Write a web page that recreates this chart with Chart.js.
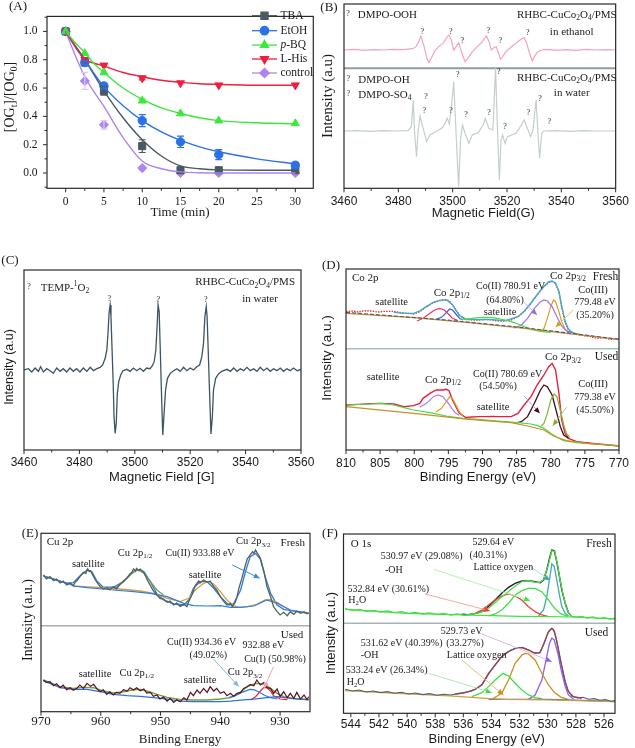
<!DOCTYPE html>
<html><head><meta charset="utf-8">
<script src="https://cdn.jsdelivr.net/npm/chart.js@4.4.0/dist/chart.umd.min.js"></script>
<style>
html,body{margin:0;padding:0;background:#fff;}
#wrap{position:relative;width:635px;height:748px;overflow:hidden;background:#fff;}
#wrap canvas{position:absolute;left:0;top:0;}
</style></head><body><div id="wrap">
<canvas id="cA" width="635" height="748"></canvas>
<canvas id="cB" width="635" height="748"></canvas>
<canvas id="cC" width="635" height="748"></canvas>
<canvas id="cD" width="635" height="748"></canvas>
<canvas id="cE" width="635" height="748"></canvas>
<canvas id="cF" width="635" height="748"></canvas>
</div>
<script>
// ================= DATA =================
// Panel A: degradation kinetics
const A_times = [0, 2.5, 5, 10, 15, 20, 30];
const A_TBA = [1.0, 0.78, 0.58, 0.19, 0.02, 0.02, 0.02];
const A_TBA_err = [0, 0.015, 0.03, 0.045, 0.008, 0.008, 0.008];
const A_EtOH = [1.0, 0.78, 0.615, 0.37, 0.22, 0.13, 0.055];
const A_EtOH_err = [0, 0.015, 0.02, 0.042, 0.04, 0.035, 0.02];
const A_pBQ = [1.0, 0.845, 0.71, 0.51, 0.42, 0.37, 0.35];
const A_pBQ_err = [0, 0.01, 0.01, 0.012, 0.01, 0.01, 0.008];
const A_LHis = [1.0, 0.80, 0.76, 0.67, 0.635, 0.62, 0.62];
const A_LHis_err = [0, 0.01, 0.01, 0.012, 0.01, 0.008, 0.008];
const A_control = [1.0, 0.65, 0.34, 0.035, 0.0, 0.0, 0.0];
const A_control_err = [0, 0.06, 0.03, 0.01, 0.005, 0.005, 0.005];
const A_fitTimes = [0, 1.25, 2.5, 3.75, 5, 7.5, 10, 12.5, 15, 17.5, 20, 25, 30];
const A_TBA_fit = [1.0, 0.90, 0.80, 0.69, 0.58, 0.39, 0.235, 0.12, 0.05, 0.03, 0.022, 0.02, 0.02];
const A_EtOH_fit = [1.0, 0.89, 0.80, 0.70, 0.61, 0.475, 0.37, 0.29, 0.23, 0.185, 0.15, 0.10, 0.065];
const A_pBQ_fit = [1.0, 0.92, 0.85, 0.77, 0.71, 0.60, 0.52, 0.46, 0.42, 0.39, 0.37, 0.355, 0.347];
const A_LHis_fit = [1.0, 0.895, 0.80, 0.775, 0.755, 0.71, 0.68, 0.655, 0.64, 0.63, 0.625, 0.62, 0.62];
const A_control_fit = [1.0, 0.83, 0.68, 0.57, 0.47, 0.25, 0.085, 0.03, 0.008, 0.002, 0.0, 0.0, 0.0];
const A_labels = ['TBA', 'EtOH', '~{p}-BQ', 'L-His', 'control'];
const A_xTicks = [0, 5, 10, 15, 20, 25, 30];
const A_yTicks = [0.0, 0.2, 0.4, 0.6, 0.8, 1.0];

// Panel B: EPR DMPO spectra [field G, intensity]
const B_ethanol = [[3460,415],[3463.6,417],[3467.2,414],[3470.8,416],[3474.5,415],[3478.1,417],[3481.7,416],[3485.3,419],[3486.5,425],[3487.5,440],[3488.3,457],[3489.5,425],[3490.5,390],[3491.3,377],[3492.3,393],[3493.5,413],[3494.9,425],[3496.7,437],[3498.0,455],[3498.6,460],[3499.5,445],[3500.4,415],[3501.3,425],[3502.2,437],[3503.4,405],[3504.6,380],[3505.8,393],[3507.0,407],[3508.8,423],[3510.6,437],[3512.4,457],[3513.4,440],[3514.2,415],[3515.2,422],[3516.0,425],[3516.9,405],[3517.6,387],[3518.4,395],[3519.6,410],[3521.4,423],[3523.3,435],[3525.1,447],[3526.3,452],[3527.2,437],[3528.3,405],[3529.3,382],[3530.1,395],[3531.3,410],[3532.9,415],[3534.7,417],[3538.3,414],[3541.9,416],[3545.5,414],[3549.2,417],[3552.8,415],[3556.4,416],[3560,415]];
const B_water = [[3460,172],[3464.8,173],[3469.6,171],[3474.5,173],[3479.3,172],[3483.5,173],[3484.8,185],[3485.5,265],[3486.0,165],[3486.7,95],[3487.2,165],[3488.0,217],[3488.9,187],[3490.4,140],[3491.6,160],[3493.7,169],[3496.4,183],[3498.0,210],[3498.8,193],[3499.8,265],[3500.4,320],[3501.2,175],[3502.2,5],[3502.9,145],[3503.6,190],[3504.8,160],[3506.0,135],[3507.2,160],[3509.4,167],[3511.2,190],[3512.0,210],[3513.3,180],[3514.8,175],[3515.3,265],[3515.8,360],[3516.5,175],[3517.2,25],[3517.8,145],[3518.4,160],[3519.3,135],[3520.2,155],[3523.3,165],[3525.1,187],[3526.3,205],[3527.5,180],[3528.7,155],[3529.6,175],[3530.7,265],[3531.4,165],[3532.0,90],[3532.8,165],[3533.5,172],[3538.3,173],[3543.1,171],[3548.0,173],[3552.8,172],[3560,172]];
const B_xTicks = [3460, 3480, 3500, 3520, 3540, 3560];

// Panel C: TEMP-1O2 spectrum
const C_spectrum = [[3460.0,240],[3461.6,244],[3462.8,234],[3464.0,246],[3465.2,236],[3466.0,250],[3467.0,234],[3468.2,244],[3469.4,238],[3470.6,230],[3471.8,246],[3473.0,236],[3474.2,244],[3475.4,234],[3476.6,246],[3477.8,236],[3479.0,244],[3480.2,234],[3481.4,246],[3482.7,236],[3483.9,248],[3485.1,238],[3486.3,244],[3487.5,248],[3488.4,255],[3489.3,275],[3489.9,300],[3490.4,360],[3490.7,410],[3491.1,435],[3491.4,400],[3491.8,300],[3492.2,200],[3492.5,100],[3492.9,50],[3493.3,80],[3493.7,170],[3494.2,205],[3494.9,225],[3495.7,238],[3497.1,242],[3498.3,236],[3499.5,246],[3500.7,238],[3501.9,245],[3503.1,236],[3504.3,246],[3505.5,244],[3506.3,252],[3507.0,265],[3507.6,300],[3508.1,380],[3508.4,435],[3508.8,415],[3509.2,300],[3509.6,180],[3510.1,45],[3510.5,100],[3511.1,180],[3511.8,215],[3512.8,230],[3514.0,238],[3515.2,244],[3516.4,236],[3517.6,248],[3518.8,238],[3520.0,246],[3521.2,240],[3522.4,250],[3523.4,255],[3524.2,280],[3524.8,320],[3525.3,400],[3525.8,430],[3526.1,400],[3526.5,300],[3527.0,170],[3527.5,48],[3528.0,100],[3528.4,180],[3529.2,215],[3530.2,228],[3531.4,236],[3533.3,242],[3534.5,236],[3535.7,246],[3536.9,236],[3538.1,244],[3539.3,238],[3540.5,248],[3541.7,238],[3542.9,244],[3544.1,236],[3545.3,248],[3546.5,238],[3547.7,246],[3548.9,236],[3550.1,244],[3551.3,238],[3552.5,246],[3553.7,236],[3554.9,244],[3556.1,238],[3557.3,246],[3558.6,238],[3560.0,242]];
const C_xTicks = [3460, 3480, 3500, 3520, 3540, 3560];

// Panel D: Co 2p XPS [binding energy eV, intensity]
const D_freshRaw = [[810,415],[809.1,417],[808.2,414],[807.3,418],[806.3,417],[805.3,414],[804.4,416],[803.0,416],[802.2,413],[801.5,411],[800.1,408],[799.2,415],[798.2,430],[797.2,442],[796.3,448],[795.3,450],[794.9,448],[794.4,435],[793.4,405],[792.5,392],[791.5,390],[790.6,390],[789.6,392],[788.6,390],[787.7,387],[786.7,387],[785.8,390],[784.8,400],[783.9,415],[782.9,440],[782.0,465],[781.0,490],[780.3,503],[779.8,505],[779.3,500],[778.8,475],[778.4,430],[777.9,385],[777.4,360],[776.7,350],[776.2,348],[775.7,345],[775.2,343],[774.8,342],[774.3,341],[773.8,338],[773.3,336],[772.9,335],[772.4,337],[771.9,335],[771.5,333],[771.0,332],[770.5,334],[770.0,332]];
const D_freshEnv = [[803.0,413],[801.5,410],[800.1,410],[799.2,417],[798.2,431],[797.2,443],[796.3,449],[795.3,451],[794.4,436],[793.4,404],[792.5,393],[790.6,391],[788.6,391],[786.7,388],[784.8,400],[783.9,416],[782.9,441],[782.0,466],[781.0,491],[780.3,505],[779.8,507],[779.3,501],[778.8,476],[778.4,431],[777.9,386],[777.4,362],[776.7,351],[775.7,346]];
const D_freshBgA = [[810,410],[800.1,397],[792,382],[784.8,367],[777.7,350],[770,332]];
const D_freshBgB = [[810,413],[795.3,390],[783.9,367],[776.2,348],[770,332]];
const D_freshP12a = [[799.6,387],[798.7,395],[797.7,410],[797.0,420],[796.3,425],[795.6,420],[795.0,408],[794.4,395],[793.6,388]];
const D_freshP12b = [[796.8,392],[796.0,398],[795.3,412],[794.8,423],[794.4,420],[793.9,408],[793.4,396],[792.9,390]];
const D_freshSat = [[793.4,393],[792.5,392],[791.5,395],[790.6,397],[789.6,398],[788.6,397],[787.7,394],[786.7,390],[785.8,385],[784.8,378],[783.9,370],[782.9,362],[781.5,356],[780.0,353]];
const D_freshCo2 = [[785.3,365],[784.3,375],[783.4,395],[782.4,425],[781.5,445],[781.0,450],[780.5,447],[779.8,430],[779.1,400],[778.4,372],[777.7,358],[777.0,352]];
const D_freshCo3 = [[781.5,355],[781.0,365],[780.5,395],[780.0,430],[779.6,450],[779.3,445],[778.8,415],[778.4,385],[777.9,362],[777.4,352]];
const D_usedRaw = [[810,135],[808.2,137],[806.3,139],[804.9,140],[803.0,138],[801.5,130],[800.1,133],[799.2,140],[798.7,155],[797.7,170],[796.8,180],[795.8,180],[795.3,182],[794.9,178],[794.4,150],[793.4,110],[792.5,98],[791.5,99],[790.6,100],[789.6,100],[788.6,101],[787.7,100],[786.7,100],[785.8,100],[784.8,110],[783.9,135],[782.9,160],[782.0,195],[781.0,225],[780.3,250],[779.8,260],[779.3,240],[778.8,170],[778.4,90],[777.9,50],[777.4,35],[776.2,25],[773.8,20],[771.4,15],[770.0,12]];
const D_usedBgGreen = [[810,135],[806.3,138],[804.9,140],[803.0,135],[801.5,127],[800.1,120],[797.7,112],[795.3,102],[792.9,95],[790.6,92],[788.6,88],[786.7,85],[784.8,82],[782.9,78],[782.0,74],[781.0,65],[780.0,50],[779.1,38],[778.1,28],[776.2,22],[773.8,18],[771.4,15],[770,13]];
const D_usedBgOrange = [[810,130],[800.1,110],[792,92],[785.8,82],[783.4,72],[781.0,60],[779.6,42],[777.7,28],[774.8,20],[770,12]];
const D_usedP12a = [[799.2,128],[798.2,140],[797.2,160],[796.5,165],[795.8,160],[795.0,140],[794.4,122],[793.9,110],[793.4,104]];
const D_usedP12b = [[796.8,115],[796.0,125],[795.3,145],[794.8,160],[794.4,155],[793.9,135],[793.4,115],[792.9,103]];
const D_usedCo2 = [[785.3,80],[784.3,85],[783.4,100],[782.4,140],[781.5,180],[781.0,195],[780.5,190],[779.8,165],[779.1,110],[778.6,70],[778.1,45],[777.4,35]];
const D_usedCo3 = [[781.5,70],[781.0,80],[780.5,110],[780.0,150],[779.5,168],[779.1,160],[778.6,120],[778.1,75],[777.7,50],[777.2,38]];
const D_xTicks = [810, 805, 800, 795, 790, 785, 780, 775, 770];

// Panel E: Cu 2p XPS
const E_freshRaw = [[969.6,410],[969.1,398],[968.5,405],[967.9,393],[967.4,398],[966.8,386],[966.3,392],[965.7,380],[965.1,386],[964.6,378],[964.3,388],[963.9,395],[963.5,405],[962.9,418],[962.5,415],[962.2,428],[961.9,420],[961.7,422],[961.2,405],[960.9,395],[960.4,382],[960.1,375],[959.6,368],[959.0,372],[958.5,366],[957.9,375],[957.4,368],[956.8,382],[956.2,392],[955.6,402],[955.1,414],[954.8,418],[954.5,428],[954.2,422],[954.0,430],[953.7,424],[953.4,428],[952.8,418],[952.3,398],[951.7,378],[951.2,362],[950.6,350],[950.1,340],[949.5,338],[948.9,328],[948.4,332],[947.8,320],[947.3,326],[946.7,316],[946.1,322],[945.6,315],[945.3,330],[944.7,352],[944.2,378],[943.6,392],[943.4,386],[942.8,395],[942.2,388],[941.7,392],[941.1,375],[940.6,365],[940.0,345],[939.4,330],[938.9,320],[938.3,325],[938.0,315],[937.5,328],[937.2,345],[936.9,370],[936.4,400],[935.8,440],[935.5,458],[935.0,470],[934.6,480],[934.4,475],[934.1,485],[933.9,478],[933.6,470],[933.3,460],[932.7,420],[932.2,375],[931.6,345],[931.1,315],[930.5,300],[930.0,290],[929.4,298],[928.8,288],[928.3,300],[927.7,292],[927.2,302],[926.6,295],[926.0,300],[925.5,294],[925.2,296]];
const E_freshEnv = [[969.6,407],[967.4,395],[965.7,385],[964.6,387],[963.5,407],[962.3,425],[961.5,420],[960.7,393],[959.6,373],[957.9,373],[956.2,390],[955.1,410],[954.0,425],[952.8,420],[951.7,390],[950.6,353],[949.5,335],[947.8,323],[946.1,320],[945.3,335],[944.5,370],[943.4,390],[942.2,390],[941.1,370],[940.0,345],[938.6,320],[937.8,323],[936.6,365],[935.8,420],[935.0,465],[934.1,475],[933.3,457],[932.5,405],[931.6,355],[930.5,320],[929.4,307],[927.2,300],[925.2,295]];
const E_freshBg = [[969.6,407],[967.4,395],[965.1,382],[964.6,377],[962.3,372],[959.6,368],[957.9,365],[954.5,360],[951.7,355],[948.9,345],[946.1,325],[944.5,318],[942.2,317],[940.0,318],[938.3,313],[936.6,313],[934.4,317],[932.2,335],[930.5,325],[928.3,305],[925.2,295]];
const E_freshSat = [[964.6,377],[962.8,375],[959.6,372],[956.8,368],[953.4,362],[951.2,355],[948.9,340],[946.7,330],[945.3,340],[944.2,365],[942.8,385],[942.0,390],[941.1,383],[940.0,360],[938.9,335],[937.8,318],[936.9,313],[935.5,315],[933.9,322],[932.5,335],[931.6,336],[930.5,328],[929.4,315],[928.3,305]];
const E_freshP12 = [[957.9,368],[956.8,380],[955.6,400],[954.5,420],[953.7,425],[952.8,415],[951.7,390],[950.6,365],[949.5,350]];
const E_usedRaw = [[969.6,95],[969.1,88],[968.5,90],[967.9,78],[967.4,84],[966.8,72],[966.3,80],[965.7,66],[965.1,72],[964.6,64],[964.0,70],[963.5,80],[962.9,70],[962.3,85],[961.7,76],[961.2,82],[960.7,70],[960.1,60],[959.6,66],[959.0,52],[958.5,60],[957.9,50],[957.4,58],[956.8,55],[956.2,66],[955.6,62],[955.1,72],[954.5,65],[954.0,72],[953.4,63],[952.8,68],[952.3,56],[951.7,58],[951.2,46],[950.6,50],[950.1,38],[949.5,44],[948.9,32],[948.4,40],[947.8,28],[947.3,36],[946.7,30],[946.1,42],[945.6,35],[945.0,58],[944.5,48],[943.9,65],[943.4,55],[942.8,70],[942.2,58],[941.7,75],[941.1,62],[940.6,70],[940.0,55],[939.4,60],[938.9,48],[938.3,55],[937.8,46],[937.2,55],[936.6,58],[936.1,70],[935.5,75],[935.0,82],[934.4,78],[933.9,95],[933.3,80],[932.7,88],[932.2,72],[931.6,70],[931.1,55],[930.5,68],[930.0,45],[929.4,60],[928.8,42],[928.3,55],[927.7,40],[927.2,58],[926.6,38],[926.0,50],[925.5,36],[925.2,45]];
const E_usedEnv = [[969.6,95],[966.8,75],[964.6,70],[962.9,73],[961.2,72],[959.6,62],[957.9,56],[956.2,60],[954.5,66],[953.4,67],[952.3,62],[950.6,52],[948.9,43],[946.7,37],[944.5,35],[942.2,35],[940.0,38],[938.3,42],[936.9,55],[935.5,75],[934.1,85],[932.7,83],[931.6,70],[930.5,55],[929.4,45],[927.2,38],[925.2,36]];
const E_usedBg = [[969.6,92],[966.8,72],[964.6,67],[962.3,67],[960.1,60],[957.9,52],[955.6,48],[953.4,46],[951.2,42],[948.9,38],[946.7,32],[944.5,30],[942.2,30],[940.0,30],[938.3,32],[936.6,35],[934.4,38],[932.2,42],[930.5,45],[928.3,40],[925.2,36]];
const E_usedCu2 = [[938.6,42],[937.5,48],[936.4,58],[935.5,64],[935.0,67],[934.4,66],[933.6,60],[932.7,50],[931.6,42],[930.5,38]];
const E_usedCu1 = [[935.0,35],[934.1,45],[933.3,62],[932.7,73],[932.2,72],[931.6,62],[931.1,48],[930.0,38],[928.8,36]];
const E_xTicks = [970, 960, 950, 940, 930];

// Panel F: O 1s XPS
const F_freshRaw = [[544.4,314],[543.9,309],[543.4,312],[542.9,306],[542.4,309],[541.9,304],[541.4,307],[540.9,302],[540.4,305],[539.9,300],[539.4,303],[538.9,298],[538.4,301],[537.9,297],[537.4,300],[536.9,295],[536.4,298],[535.9,294],[535.4,298],[534.9,301],[534.5,308],[534.2,316],[533.8,330],[533.4,345],[533.0,358],[532.6,372],[532.2,385],[531.8,396],[531.4,398],[531.0,394],[530.6,392],[530.3,401],[530.0,440],[529.8,472],[529.7,488],[529.5,486],[529.3,445],[529.1,395],[528.9,355],[528.7,320],[528.5,300],[528.3,291],[528.0,289],[527.6,291],[527.2,286],[526.8,289],[526.4,284],[526.0,287],[525.6,283],[525.2,285]];
const F_freshEnv = [[536.11,297],[535.64,296],[535.16,299],[534.69,305],[534.33,315],[533.98,330],[533.62,345],[533.27,360],[532.79,378],[532.32,390],[531.84,397],[531.37,398],[530.90,395],[530.54,392],[530.30,400],[530.07,430],[529.88,465],[529.71,490],[529.54,488],[529.36,455],[529.17,410],[529.00,370],[528.76,330],[528.53,302],[528.29,290]];
const F_freshBg = [[544.4,312],[540,300],[536,295],[534,293],[532,291],[530,290],[528.3,289],[525.2,283]];
const F_freshH2O = [[535.64,295],[535.16,300],[534.69,310],[534.21,325],[533.74,340],[533.27,352],[532.79,358],[532.32,352],[531.84,340],[531.37,320],[530.90,305],[530.42,295],[529.95,290]];
const F_freshOH = [[534.21,292],[533.74,298],[533.27,310],[532.79,330],[532.32,355],[531.84,368],[531.37,375],[530.90,375],[530.42,365],[529.95,340],[529.52,315],[529.05,298],[528.53,290]];
const F_freshLat = [[530.66,292],[530.30,310],[530.07,350],[529.88,400],[529.71,448],[529.54,440],[529.36,400],[529.17,355],[529.00,320],[528.76,300],[528.53,292]];
const F_usedRaw = [[544.4,72],[543.9,67],[543.4,70],[542.9,64],[542.4,67],[541.9,62],[541.4,65],[540.9,60],[540.4,63],[539.9,58],[539.4,61],[538.9,56],[538.4,59],[537.9,54],[537.4,57],[536.9,55],[536.4,59],[535.9,62],[535.4,67],[535.0,76],[534.6,90],[534.2,118],[533.8,142],[533.4,165],[533.0,180],[532.6,190],[532.2,196],[531.8,198],[531.4,191],[531.0,182],[530.6,181],[530.3,205],[530.0,240],[529.8,252],[529.6,252],[529.4,225],[529.2,180],[529.0,140],[528.8,100],[528.6,72],[528.3,52],[527.9,46],[527.5,48],[527.1,42],[526.7,44],[526.3,39],[525.9,41],[525.5,36],[525.2,38]];
const F_usedEnv = [[536.58,58],[536.11,60],[535.64,65],[535.16,72],[534.69,85],[534.21,120],[533.74,145],[533.27,170],[532.79,185],[532.32,195],[531.84,197],[531.37,190],[530.90,180],[530.54,182],[530.18,220],[529.95,245],[529.71,255],[529.52,245],[529.28,200],[529.05,150],[528.76,95],[528.53,65],[528.17,50],[527.58,45]];
const F_usedBgGold = [[544.4,68],[540,58],[537,52],[535.4,48],[534.2,44],[533,42],[530,40],[528,38],[525.2,35]];
const F_usedBgBlue = [[534.2,42],[530,42],[527,38],[525.2,35]];
const F_usedH2O = [[535.40,50],[534.69,62],[534.21,80],[533.74,100],[533.19,120],[532.79,112],[532.32,90],[531.84,70],[531.37,55],[530.90,47],[530.42,44]];
const F_usedOH = [[533.98,42],[533.27,60],[532.79,100],[532.32,150],[531.84,175],[531.61,180],[531.37,178],[530.90,160],[530.42,120],[529.95,85],[529.52,62],[529.05,48],[528.53,42]];
const F_usedLat = [[531.37,42],[530.90,55],[530.42,100],[530.07,170],[529.88,210],[529.71,225],[529.54,220],[529.28,180],[529.05,130],[528.76,80],[528.53,55],[528.17,43]];
const F_xTicks = [544, 542, 540, 538, 536, 534, 532, 530, 528, 526];

// ================= HELPERS =================
const SERIF = '"Liberation Serif", "Times New Roman", serif';
const SANS = '"Liberation Sans", Arial, sans-serif';
const ROT = -Math.PI / 2;
Chart.defaults.animation = false;
Chart.defaults.font.family = SANS;

const zip = (xs, ys) => xs.map((x, i) => ({x: x, y: ys[i]}));
const pts = pairs => pairs.map(p => ({x: p[0], y: p[1]}));
function lineDS(data, color, width, extra) {
  return Object.assign({data: data, showLine: true, borderColor: color, borderWidth: width || 1.2,
    pointRadius: 0, fill: false, tension: 0}, extra || {});
}
function halfway(arr) { const r = []; for (let i = 0; i < arr.length - 1; i++) r.push((arr[i] + arr[i + 1]) / 2); return r; }

function parseRich(s) {
  const segs = []; let i = 0, buf = '';
  while (i < s.length) {
    const c = s[i];
    if ((c === '_' || c === '^' || c === '~') && s[i + 1] === '{') {
      if (buf) { segs.push({t: buf, m: 'n'}); buf = ''; }
      const j = s.indexOf('}', i + 2);
      segs.push({t: s.slice(i + 2, j), m: c === '_' ? 'sub' : (c === '^' ? 'sup' : 'it')});
      i = j + 1;
    } else { buf += c; i++; }
  }
  if (buf) segs.push({t: buf, m: 'n'});
  return segs;
}
function drawRich(ctx, s, x, y, o) {
  const segs = parseRich(s);
  const fontFor = m => ((m === 'it') ? 'italic ' : '') + ((m === 'sub' || m === 'sup') ? o.size * 0.68 : o.size) + 'px ' + o.family;
  let w = 0;
  segs.forEach(sg => { ctx.font = fontFor(sg.m); sg.w = ctx.measureText(sg.t).width; w += sg.w; });
  ctx.save();
  ctx.translate(x, y);
  if (o.rot) ctx.rotate(o.rot);
  let cx = o.align === 'center' ? -w / 2 : (o.align === 'right' ? -w : 0);
  ctx.fillStyle = o.color || '#1a1a1a';
  ctx.textBaseline = 'middle'; ctx.textAlign = 'left';
  segs.forEach(sg => {
    ctx.font = fontFor(sg.m);
    let dy = 0;
    if (sg.m === 'sub') dy = o.size * 0.3;
    if (sg.m === 'sup') dy = -o.size * 0.35;
    ctx.fillText(sg.t, cx, dy);
    cx += sg.w;
  });
  ctx.restore();
}

function decoPlugin(P) {
  return {
    id: 'deco',
    beforeDatasetsDraw(chart) {
      const ctx = chart.ctx, a = chart.chartArea, ys = chart.scales.y;
      ctx.save();
      (P.dividers || []).forEach(d => {
        const y = ys.getPixelForValue(d.v);
        ctx.strokeStyle = d.color; ctx.lineWidth = d.w;
        ctx.beginPath(); ctx.moveTo(a.left, y); ctx.lineTo(a.right, y); ctx.stroke();
      });
      ctx.restore();
    },
    afterDatasetsDraw(chart) {
      const ctx = chart.ctx, a = chart.chartArea, xs = chart.scales.x, ys = chart.scales.y;
      ctx.save();
      // error bars
      (P.errors || []).forEach(e => {
        ctx.strokeStyle = e.color; ctx.lineWidth = 1.2;
        e.x.forEach((xv, i) => {
          if (!e.e[i] || e.e[i] < 0.012) return;
          const px = xs.getPixelForValue(xv), y1 = ys.getPixelForValue(e.y[i] - e.e[i]), y2 = ys.getPixelForValue(e.y[i] + e.e[i]);
          ctx.beginPath();
          ctx.moveTo(px, y1); ctx.lineTo(px, y2);
          ctx.moveTo(px - 3.5, y1); ctx.lineTo(px + 3.5, y1);
          ctx.moveTo(px - 3.5, y2); ctx.lineTo(px + 3.5, y2);
          ctx.stroke();
        });
      });
      // arrows
      (P.arrows || []).forEach(ar => {
        const x1 = xs.getPixelForValue(ar[0]), y1 = ys.getPixelForValue(ar[1]);
        const x2 = xs.getPixelForValue(ar[2]), y2 = ys.getPixelForValue(ar[3]);
        ctx.strokeStyle = ar[4]; ctx.lineWidth = 1;
        ctx.beginPath(); ctx.moveTo(x1, y1); ctx.lineTo(x2, y2); ctx.stroke();
        const ang = Math.atan2(y2 - y1, x2 - x1), L = 6, Wd = 2.6;
        ctx.fillStyle = ar[5] || ar[4];
        ctx.beginPath();
        ctx.moveTo(x2, y2);
        ctx.lineTo(x2 - L * Math.cos(ang) + Wd * Math.sin(ang), y2 - L * Math.sin(ang) - Wd * Math.cos(ang));
        ctx.lineTo(x2 - L * Math.cos(ang) - Wd * Math.sin(ang), y2 - L * Math.sin(ang) + Wd * Math.cos(ang));
        ctx.closePath(); ctx.fill();
      });
      // frame
      ctx.strokeStyle = '#2a2a2a'; ctx.lineWidth = P.frameW || 1.2;
      ctx.strokeRect(a.left, a.top, a.right - a.left, a.bottom - a.top);
      // ticks (outward)
      ctx.lineWidth = 1;
      const tx = (vals, len) => vals.forEach(v => {
        const x = xs.getPixelForValue(v);
        ctx.beginPath(); ctx.moveTo(x, a.bottom); ctx.lineTo(x, a.bottom + len); ctx.stroke();
      });
      tx(P.x.major, 4); tx(P.x.minor || [], 2.5);
      if (P.yTicks) {
        const ty = (vals, len) => vals.forEach(v => {
          const y = ys.getPixelForValue(v);
          ctx.beginPath(); ctx.moveTo(a.left, y); ctx.lineTo(a.left - len, y); ctx.stroke();
        });
        ty(P.y.major, 4); ty(P.y.minor || [], 2.5);
      }
      // legend
      if (P.legend) {
        const L = P.legend;
        L.items.forEach((it, i) => {
          const y = L.y[i];
          ctx.strokeStyle = it.color; ctx.lineWidth = 1.3;
          ctx.beginPath(); ctx.moveTo(L.x0, y); ctx.lineTo(L.x1, y); ctx.stroke();
          ctx.fillStyle = it.color; ctx.strokeStyle = it.color;
          Chart.helpers.drawPoint(ctx, {pointStyle: it.style, radius: it.r, rotation: it.rot || 0, borderWidth: 1}, (L.x0 + L.x1) / 2, y);
          drawRich(ctx, it.label, L.tx, y, {align: 'left', size: L.size, family: SERIF});
        });
      }
      // texts
      (P.texts || []).forEach(t => drawRich(ctx, t[0], t[1], t[2], {align: t[3], size: t[4], family: t[5], color: t[6], rot: t[7]}));
      ctx.restore();
    }
  };
}

function makePanel(id, P) {
  const W = 635, H = 748, XH = 24;
  const yw = P.yLabels ? P.yAxisWidth : 0;
  return new Chart(document.getElementById(id), {
    type: 'scatter',
    data: {datasets: P.datasets},
    options: {
      responsive: false, animation: false, events: [],
      layout: {padding: {left: P.box.l - yw, top: P.box.t, right: W - P.box.r, bottom: H - P.box.b - XH}},
      plugins: {legend: {display: false}, tooltip: {enabled: false}},
      scales: {
        x: {type: 'linear', min: P.x.min, max: P.x.max, reverse: !!P.x.reverse,
          grid: {display: false, drawTicks: false}, border: {display: false},
          ticks: {padding: P.x.pad, font: {family: P.x.font, size: P.x.size}, color: '#1a1a1a', maxRotation: 0, autoSkip: false,
            callback: v => String(v)},
          afterBuildTicks: s => { s.ticks = P.x.major.map(v => ({value: v})); },
          afterFit: s => { s.height = XH; }},
        y: {type: 'linear', min: P.y.min, max: P.y.max, display: !!P.yLabels,
          grid: {display: false, drawTicks: false}, border: {display: false},
          ticks: {padding: P.y.pad || 0, font: {family: P.y.font || SANS, size: P.y.size || 12}, color: '#1a1a1a', autoSkip: false,
            callback: P.y.fmt || (v => String(v))},
          afterBuildTicks: s => { if (P.y.major) s.ticks = P.y.major.map(v => ({value: v})); },
          afterFit: s => { if (P.yLabels) s.width = yw; }}
      }
    },
    plugins: [decoPlugin(P)]
  });
}

// ================= PANEL A =================
const cTBA = '#4b5963', cEtOH = '#2b72e6', cBQ = '#3de83d', cHis = '#ee1f3f', cCtl = '#ad85f0';
const mono = {cubicInterpolationMode: 'monotone'};
function markDS(data, color, style, r, rot) {
  return {data: data, showLine: false, pointStyle: style, pointRadius: r, pointRotation: rot || 0,
    pointBackgroundColor: color, pointBorderColor: color, pointBorderWidth: 1};
}
makePanel('cA', {
  box: {l: 47, t: 8, r: 313.3, b: 188.3},
  x: {min: -2.44, max: 32.35, major: A_xTicks, minor: halfway(A_xTicks), font: SERIF, size: 11.5, pad: 6.5},
  y: {min: -0.108, max: 1.106, major: A_yTicks, minor: [-0.1, 0.1, 0.3, 0.5, 0.7, 0.9, 1.1], font: SERIF, size: 11.5, pad: 9.5, fmt: v => v.toFixed(1)},
  yLabels: true, yAxisWidth: 34, yTicks: true,
  datasets: [
    lineDS(zip(A_fitTimes, A_pBQ_fit), cBQ, 1.4, mono),
    lineDS(zip(A_fitTimes, A_LHis_fit), cHis, 1.4, mono),
    lineDS(zip(A_fitTimes, A_EtOH_fit), cEtOH, 1.4, mono),
    lineDS(zip(A_fitTimes, A_TBA_fit), cTBA, 1.4, mono),
    lineDS(zip(A_fitTimes, A_control_fit), cCtl, 1.4, mono),
    markDS(zip(A_times, A_pBQ), cBQ, 'triangle', 4.6),
    markDS(zip(A_times, A_LHis), cHis, 'triangle', 4.6, 180),
    markDS(zip(A_times, A_EtOH), cEtOH, 'circle', 4.2),
    markDS(zip(A_times, A_TBA), cTBA, 'rect', 5),
    markDS(zip(A_times, A_control), cCtl, 'rectRot', 4.6)
  ],
  errors: [
    {x: A_times, y: A_TBA, e: A_TBA_err, color: cTBA},
    {x: A_times, y: A_EtOH, e: A_EtOH_err, color: cEtOH},
    {x: A_times, y: A_pBQ, e: A_pBQ_err, color: cBQ},
    {x: A_times, y: A_LHis, e: A_LHis_err, color: cHis},
    {x: A_times, y: A_control, e: A_control_err, color: '#dccaf6'}
  ],
  legend: {x0: 252, x1: 277, tx: 280.5, size: 11.5, y: [15.7, 30.7, 45, 59, 73],
    items: [
      {label: A_labels[0], color: cTBA, style: 'rect', r: 5},
      {label: A_labels[1], color: cEtOH, style: 'circle', r: 4.2},
      {label: A_labels[2], color: cBQ, style: 'triangle', r: 4.6},
      {label: A_labels[3], color: cHis, style: 'triangle', r: 4.6, rot: 180},
      {label: A_labels[4], color: cCtl, style: 'rectRot', r: 4.6}
    ]},
  texts: [
    ['(A)', 18, 7, 'center', 13, SERIF],
    ['Time (min)', 180, 213, 'center', 13, SERIF],
    ['[OG_{t}]/[OG_{0}]', 10, 97, 'center', 14, SERIF, null, ROT]
  ]
});

// ================= PANEL B =================
makePanel('cB', {
  box: {l: 344, t: 4, r: 621.7, b: 188.3},
  x: {min: 3460, max: 3560, major: B_xTicks, minor: halfway(B_xTicks), font: SANS, size: 12, pad: 6},
  y: {min: 0, max: 553},
  dividers: [{v: 360, color: '#8e9ea6', w: 2}],
  datasets: [
    lineDS(pts(B_ethanol), '#f2a4b6', 1.2),
    lineDS(pts(B_water), '#c3cfcb', 1.2)
  ],
  texts: [
    ['(B)', 329, 8, 'center', 13, SERIF],
    ['?', 348, 13.5, 'center', 8, SERIF],
    ['DMPO-OOH', 357.7, 15, 'left', 11, SERIF],
    ['RHBC-CuCo_{2}O_{4}/PMS', 616.7, 15, 'right', 11, SERIF],
    ['in ethanol', 571.7, 31.7, 'center', 11, SERIF],
    ['?', 348.3, 78.5, 'center', 8, SERIF],
    ['DMPO-OH', 358.3, 80, 'left', 11, SERIF],
    ['?', 348.3, 93.5, 'center', 8, SERIF],
    ['DMPO-SO_{4}', 358.3, 95, 'left', 11, SERIF],
    ['RHBC-CuCo_{2}O_{4}/PMS', 616.7, 77.7, 'right', 11, SERIF],
    ['in water', 571.7, 93.3, 'center', 11, SERIF],
    ['?', 422.3, 32.3, 'center', 8, SERIF], ['?', 450.7, 32.3, 'center', 8, SERIF], ['?', 462.3, 40.7, 'center', 8, SERIF],
    ['?', 488.3, 30.7, 'center', 8, SERIF], ['?', 500.3, 40.7, 'center', 8, SERIF], ['?', 527.7, 33.3, 'center', 8, SERIF],
    ['?', 426, 97.3, 'center', 8, SERIF], ['?', 424.3, 110.7, 'center', 8, SERIF], ['?', 451, 111, 'center', 8, SERIF],
    ['?', 457.7, 75, 'center', 8, SERIF], ['?', 466, 115, 'center', 8, SERIF], ['?', 489, 113.3, 'center', 8, SERIF],
    ['?', 498.7, 71.7, 'center', 8, SERIF], ['?', 505, 127.3, 'center', 8, SERIF], ['?', 528.3, 113.3, 'center', 8, SERIF],
    ['?', 540, 99.3, 'center', 8, SERIF], ['?', 549.3, 121.7, 'center', 8, SERIF],
    ['Intensity (a.u)', 327.7, 96, 'center', 15, SERIF, null, ROT],
    ['Magnetic Field(G)', 483.3, 213.3, 'center', 13, SANS]
  ]
});

// ================= PANEL C =================
makePanel('cC', {
  box: {l: 24, t: 270, r: 301, b: 450},
  x: {min: 3460, max: 3560, major: C_xTicks, minor: halfway(C_xTicks), font: SANS, size: 12, pad: 5.5},
  y: {min: 0, max: 540},
  datasets: [lineDS(pts(C_spectrum), '#3d5561', 1.3)],
  texts: [
    ['(C)', 10, 261, 'center', 13, SERIF],
    ['?', 29, 287, 'center', 8, SERIF],
    ['TEMP-^{1}O_{2}', 40.7, 288, 'left', 11, SERIF],
    ['RHBC-CuCo_{2}O_{4}/PMS', 295, 282.3, 'right', 11, SERIF],
    ['in water', 260, 299, 'center', 11, SERIF],
    ['?', 109.3, 299.3, 'center', 8, SERIF], ['?', 158.3, 300, 'center', 8, SERIF], ['?', 205.7, 300, 'center', 8, SERIF],
    ['Intensity (a.u)', 10, 367, 'center', 12.5, SANS, null, ROT],
    ['Magnetic Field [G]', 161.7, 477.7, 'center', 13, SANS]
  ]
});

// ================= PANEL D =================
makePanel('cD', {
  box: {l: 346, t: 269, r: 625, b: 450},
  x: {min: 770, max: 810, reverse: true, major: D_xTicks, minor: halfway(D_xTicks), font: SANS, size: 12, pad: 6},
  y: {min: 0, max: 543},
  dividers: [{v: 304, color: '#a8bcc8', w: 1.5}],
  datasets: [
    lineDS(pts(D_freshBgB), '#4a5a78', 1.1, {borderDash: [4, 2]}),
    lineDS(pts(D_freshBgA), '#c8902c', 1.2),
    lineDS(pts(D_freshSat), '#48dd48', 1.2),
    lineDS(pts(D_freshP12a), '#f0306a', 1.2),
    lineDS(pts(D_freshP12b), '#2c64dc', 1.2),
    lineDS(pts(D_freshCo2), '#a070f0', 1.2),
    lineDS(pts(D_freshCo3), '#d8a020', 1.2),
    lineDS(pts(D_freshEnv), '#3aaec8', 1.4),
    lineDS(pts(D_freshRaw), '#ea2a3a', 1.4, {borderDash: [1.5, 1.2]}),
    lineDS(pts(D_usedBgOrange), '#c8902c', 1.2),
    lineDS(pts(D_usedBgGreen), '#48dd48', 1.2),
    lineDS(pts(D_usedP12a), '#b478e8', 1.2),
    lineDS(pts(D_usedP12b), '#d8a020', 1.2),
    lineDS(pts(D_usedCo3), '#84b432', 1.2),
    lineDS(pts(D_usedCo2), '#3c0a22', 1.3),
    lineDS(pts(D_usedRaw), '#e8203c', 1.4)
  ],
  arrows: [
    [783.9, 442, 782.0, 405, '#c4a8ec', '#9070d0'],
    [776.7, 420, 779.3, 368, '#e6c060', '#d8a020'],
    [783.9, 162, 781.6, 110, '#a8a8e0', '#3c0a22'],
    [777.7, 128, 779.7, 73, '#a8c870', '#80b030']
  ],
  texts: [
    ['(D)', 331, 266, 'center', 13, SERIF],
    ['Co 2p', 352, 277.7, 'left', 11, SERIF],
    ['Fresh', 618.3, 276.7, 'right', 11.5, SERIF],
    ['Co 2p_{3/2}', 568, 276, 'center', 11, SERIF],
    ['Co 2p_{1/2}', 451.7, 292.7, 'center', 11, SERIF],
    ['Co(II) 780.91 eV', 510.7, 286.7, 'center', 10, SERIF],
    ['(64.80%)', 505, 300, 'center', 10, SERIF],
    ['Co(III)', 593, 290.7, 'center', 10.5, SERIF],
    ['779.48 eV', 595, 302.7, 'center', 10, SERIF],
    ['(35.20%)', 595, 315, 'center', 10, SERIF],
    ['satellite', 391.7, 302.7, 'center', 10.5, SERIF],
    ['satellite', 500, 312.7, 'center', 10.5, SERIF],
    ['Used', 618.3, 356.7, 'right', 11.5, SERIF],
    ['Co 2p_{3/2}', 563, 357.3, 'center', 11, SERIF],
    ['satellite', 383, 377.3, 'center', 10.5, SERIF],
    ['Co 2p_{1/2}', 443, 380, 'center', 11, SERIF],
    ['Co(II) 780.69 eV', 507.7, 374, 'center', 10, SERIF],
    ['(54.50%)', 498, 386.7, 'center', 10, SERIF],
    ['satellite', 493, 407.3, 'center', 10.5, SERIF],
    ['Co(III)', 593, 384.3, 'center', 10.5, SERIF],
    ['779.38 eV', 595, 397.3, 'center', 10, SERIF],
    ['(45.50%)', 595, 410, 'center', 10, SERIF],
    ['Intensity (a.u.)', 327.7, 358, 'center', 13.5, SANS, null, ROT],
    ['Binding Energy (eV)', 478, 477.3, 'center', 13, SANS]
  ]
});

// ================= PANEL E =================
makePanel('cE', {
  box: {l: 41, t: 533.3, r: 310, b: 711.7},
  x: {min: 925, max: 970, reverse: true, major: E_xTicks, minor: [965, 955, 945, 935], font: SERIF, size: 13, pad: 2.5},
  y: {min: 0, max: 535},
  dividers: [{v: 258, color: '#a8b0b0', w: 1.5}],
  datasets: [
    lineDS(pts(E_freshRaw), '#55605c', 1.3),
    lineDS(pts(E_freshBg), '#2d7fe0', 1.2),
    lineDS(pts(E_freshSat), '#d4a040', 1.3),
    lineDS(pts(E_freshP12), '#7aa040', 1.2),
    lineDS(pts(E_freshEnv), '#2d7fe0', 1.4),
    lineDS(pts(E_usedRaw), '#5a1226', 1.2),
    lineDS(pts(E_usedBg), '#3070d8', 1.2),
    lineDS(pts(E_usedCu2), '#2d7fe0', 1.2),
    lineDS(pts(E_usedCu1), '#f0203c', 1.2),
    lineDS(pts(E_usedEnv), '#7aa032', 1.4)
  ],
  arrows: [
    [938.0, 440, 933.4, 400, '#3a88e0'],
    [941.1, 157, 936.9, 75, '#80b8ec'],
    [931.1, 135, 932.7, 70, '#f4a0b8']
  ],
  texts: [
    ['(E)', 30, 534, 'center', 13, SERIF],
    ['Cu 2p', 46.7, 542.3, 'left', 11, SERIF],
    ['Fresh', 305, 543.3, 'right', 11, SERIF],
    ['Cu 2p_{3/2}', 253.3, 541.7, 'center', 10.5, SERIF],
    ['Cu 2p_{1/2}', 135, 553.3, 'center', 10.5, SERIF],
    ['satellite', 88.3, 564, 'center', 10.5, SERIF],
    ['Cu(II) 933.88 eV', 200, 553.3, 'center', 10, SERIF],
    ['satellite', 205, 575, 'center', 10.5, SERIF],
    ['Used', 303.3, 635, 'right', 11, SERIF],
    ['Cu(II) 934.36 eV', 201.7, 642.7, 'center', 10, SERIF],
    ['(49.02%)', 208.3, 655, 'center', 10, SERIF],
    ['932.88 eV', 263.3, 645.7, 'center', 10, SERIF],
    ['Cu(I) (50.98%)', 275, 659.3, 'center', 10, SERIF],
    ['Cu 2p_{3/2}', 245, 672.7, 'center', 10.5, SERIF],
    ['satellite', 95, 674, 'center', 10.5, SERIF],
    ['Cu 2p_{1/2}', 136.7, 673.3, 'center', 10.5, SERIF],
    ['satellite', 200, 680, 'center', 10.5, SERIF],
    ['Intensity (a.u.)', 28, 620, 'center', 14, SERIF, null, ROT],
    ['Binding Energy', 180, 739.3, 'center', 13, SERIF]
  ]
});

// ================= PANEL F =================
makePanel('cF', {
  box: {l: 343.5, t: 534, r: 615, b: 713.3},
  x: {min: 525.22, max: 544.52, reverse: true, major: F_xTicks, minor: [543, 541, 539, 537, 535, 533, 531, 529, 527], font: SANS, size: 12, pad: 4.5},
  y: {min: 0, max: 538},
  dividers: [{v: 270, color: '#a8b4ba', w: 1.5}],
  datasets: [
    lineDS(pts(F_freshBg), '#44e044', 1.2),
    lineDS(pts(F_freshRaw), '#44e044', 1.3),
    lineDS(pts(F_freshH2O), '#f04030', 1.3),
    lineDS(pts(F_freshOH), '#40e040', 1.3),
    lineDS(pts(F_freshLat), '#40a8b0', 1.3),
    lineDS(pts(F_freshEnv), '#2a1a3a', 1.4),
    lineDS(pts(F_usedRaw), '#55606a', 1.1),
    lineDS(pts(F_usedBgGold), '#d0a040', 1.3),
    lineDS(pts(F_usedBgBlue), '#4060d0', 1.2),
    lineDS(pts(F_usedH2O), '#40e040', 1.3),
    lineDS(pts(F_usedOH), '#c89020', 1.3),
    lineDS(pts(F_usedLat), '#9060f0', 1.3),
    lineDS(pts(F_usedEnv), '#f0203c', 1.4)
  ],
  arrows: [
    [538.72, 358, 534.09, 307, '#f7a8a0', '#f04030'],
    [538.12, 432, 531.25, 338, '#b8f0b0', '#40e040'],
    [531.37, 445, 529.83, 398, '#a8dce0', '#40a8b0'],
    [538.48, 120, 533.98, 62, '#b0eab0', '#40e040'],
    [536.11, 160, 533.15, 55, '#e0c080', '#c89020'],
    [534.92, 242, 529.71, 155, '#dcb8ec', '#9060f0']
  ],
  texts: [
    ['(F)', 330, 534, 'center', 13, SERIF],
    ['O 1s', 350.7, 544, 'left', 11, SERIF],
    ['Fresh', 611.7, 544, 'right', 11.5, SERIF],
    ['529.64 eV', 493.3, 542.7, 'center', 10, SERIF],
    ['(40.31%)', 488.3, 555, 'center', 10, SERIF],
    ['Lattice oxygen', 503.3, 567.7, 'center', 10, SERIF],
    ['530.97 eV (29.08%)', 421.7, 556, 'center', 10, SERIF],
    ['-OH', 385, 570, 'left', 10, SERIF],
    ['532.84 eV (30.61%)', 388.3, 589.3, 'center', 10, SERIF],
    ['H_{2}O', 348.3, 600.7, 'left', 10, SERIF],
    ['Used', 608.3, 632.7, 'right', 11.5, SERIF],
    ['529.73 eV', 461.7, 631, 'center', 10, SERIF],
    ['531.62 eV (40.39%)', 401.7, 643.3, 'center', 10, SERIF],
    ['(33.27%)', 465, 643.3, 'center', 10, SERIF],
    ['-OH', 360.7, 655, 'left', 10, SERIF],
    ['Lattice oxygen', 476.7, 655.7, 'center', 10, SERIF],
    ['533.24 eV (26.34%)', 386.7, 670, 'center', 10, SERIF],
    ['H_{2}O', 346.7, 682.7, 'left', 10, SERIF],
    ['Intensity (a.u.)', 331, 633, 'center', 13, SANS, null, ROT],
    ['Binding Energy (eV)', 486.7, 739.3, 'center', 13, SANS]
  ]
});
</script>
</body></html>
